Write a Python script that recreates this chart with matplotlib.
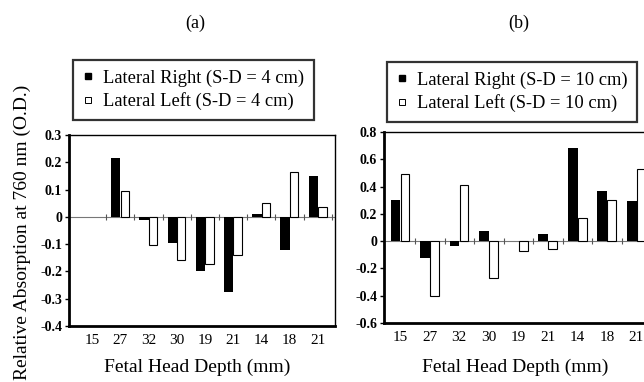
import numpy as np
import matplotlib
matplotlib.use('Agg')
import matplotlib.pyplot as plt
from matplotlib.lines import Line2D

plt.rcParams['font.family'] = 'Liberation Serif'
plt.rcParams['axes.unicode_minus'] = False

depths = ['15', '27', '32', '30', '19', '21', '14', '18', '21']

# (a) S-D = 4 cm
right_4cm = [0.0, 0.216, -0.012, -0.095, -0.20, -0.277, 0.010, -0.122, 0.149]
left_4cm  = [0.0, 0.095, -0.104, -0.159, -0.173, -0.140, 0.051, 0.165, 0.037]
# (b) S-D = 10 cm
right_10cm = [0.30, -0.12, -0.035, 0.078, 0.0, 0.049, 0.68, 0.368, 0.295]
left_10cm  = [0.49, -0.40, 0.41, -0.27, -0.073, -0.06, 0.166, 0.305, 0.53]

yticks_a = [0.3, 0.2, 0.1, 0, -0.1, -0.2, -0.3, -0.4]
yticks_b = [0.8, 0.6, 0.4, 0.2, 0, -0.2, -0.4, -0.6]

W, H = 644, 382
fig = plt.figure(figsize=(W / 100, H / 100), dpi=100)

def fx(px): return px / W
def fy(py): return 1 - py / H


def panel(rect, right, left, yticks, xlim, lab_r, lab_l, leg_xy, title, title_xy, xlab_x):
    ax = fig.add_axes(rect)
    x = np.arange(len(depths))
    ax.bar(x - 0.16, right, 0.33, color='black', lw=0)
    ax.bar(x + 0.16, left, 0.30, color='white', edgecolor='black',
           lw=[0.8 if v else 0 for v in left])
    ax.axhline(0, color='#777777', lw=0.8, zorder=0)
    ax.plot(x + 0.5, np.zeros(len(x)), ls='none', marker='|', color='#555555', ms=4, mew=0.8)
    ax.set_xlim(*xlim)
    ax.set_ylim(min(yticks), max(yticks))
    ax.set_yticks(yticks)
    ax.set_yticklabels(['0' if t == 0 else f'{t:g}' for t in yticks], fontweight='bold', fontsize=10)
    ax.set_xticks(x)
    ax.set_xticklabels(depths, fontsize=11)
    ax.tick_params(axis='x', length=0, pad=6)
    ax.tick_params(axis='y', length=3, width=1, pad=2, direction='out')
    for s in ['left', 'bottom']:
        ax.spines[s].set_linewidth(2)
    for s in ['top', 'right']:
        ax.spines[s].set_linewidth(1)
    handles = [Line2D([], [], ls='none', marker='s', ms=4.5, mfc='black', mec='black'),
               Line2D([], [], ls='none', marker='s', ms=4.5, mfc='white', mec='black', mew=0.7)]
    leg = fig.legend(handles, [lab_r, lab_l], loc='upper left',
                     bbox_to_anchor=(fx(leg_xy[0]), fy(leg_xy[1])),
                     frameon=True, fancybox=False, edgecolor='black', fontsize=13.3,
                     handlelength=0.6, handletextpad=0.5, labelspacing=0.3,
                     borderpad=0.52, borderaxespad=0)
    leg.get_frame().set_linewidth(1.6)
    fig.text(fx(title_xy[0]), fy(title_xy[1]), title, ha='center', va='center', fontsize=13)
    fig.text(fx(xlab_x), fy(367), 'Fetal Head Depth (mm)', ha='center', va='center', fontsize=14)
    return ax


panel([fx(69), fy(326), fx(335) - fx(69), (326 - 135) / H],
      right_4cm, left_4cm, yticks_a, (-0.82, 8.61),
      'Lateral Right (S-D = 4 cm)', 'Lateral Left (S-D = 4 cm)',
      (73, 60), '(a)', (195, 23), 197)

panel([fx(384), fy(323), 282 / W, (323 - 132) / H],
      right_10cm, left_10cm, yticks_b, (-0.55, 9.0),
      'Lateral Right (S-D = 10 cm)', 'Lateral Left (S-D = 10 cm)',
      (387, 62), '(b)', (519, 23), 515)

fig.text(fx(22), fy(232), 'Relative Absorption at 760 nm (O.D.)', rotation=90,
         ha='center', va='center', fontsize=14)

fig.savefig('out.png', dpi=100)
